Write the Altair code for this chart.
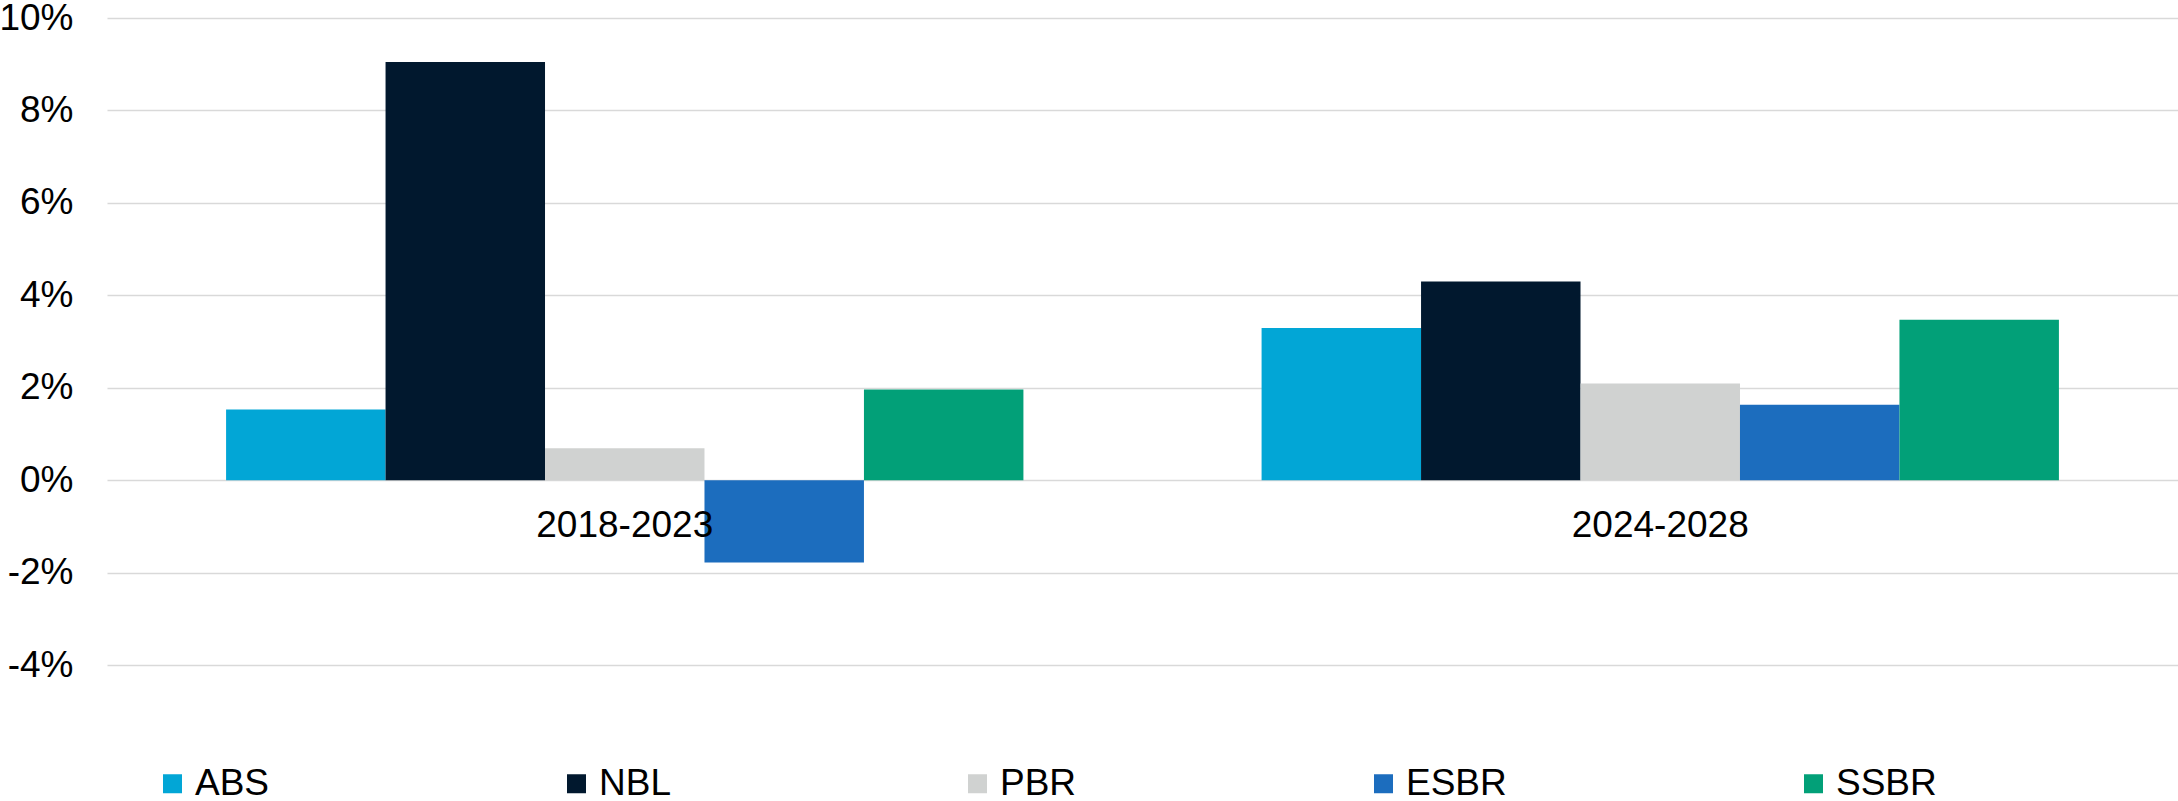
import altair as alt
import pandas as pd

periods = ["2018-2023", "2024-2028"]
series = ["ABS", "NBL", "PBR", "ESBR", "SSBR"]
growth_2018_2023 = [1.53, 9.05, 0.69, -1.78, 1.96]
growth_2024_2028 = [3.29, 4.30, 2.09, 1.63, 3.47]
colors = ["#02A6D6", "#01182E", "#D0D2D1", "#1C6DBE", "#02A078"]
y_ticks = [-0.04, -0.02, 0.0, 0.02, 0.04, 0.06, 0.08, 0.10]

rows = []
for p, vals in zip(periods, [growth_2018_2023, growth_2024_2028]):
    for s, v in zip(series, vals):
        rows.append({"period": p, "series": s, "value": v / 100})
df = pd.DataFrame(rows)
labels_df = pd.DataFrame({"period": periods, "base": [0.0] * len(periods)})

FONT = "Liberation Sans, Arial, sans-serif"

x_enc = alt.X("period:N", sort=periods, axis=None,
              scale=alt.Scale(paddingInner=0.23, paddingOuter=0.115))
y_scale = alt.Scale(domain=[-0.04, 0.10], nice=False, zero=False)
y_axis = alt.Axis(values=y_ticks, format=".0%", title=None,
                  labelExpr="replace(datum.label, '\u2212', '-')",
                  domain=False, ticks=False, labelFontSize=37,
                  labelPadding=34, labelColor="#000000", labelFont=FONT,
                  gridColor="#D9D9D9", gridWidth=1.3)

bars = alt.Chart(df).mark_bar().encode(
    x=x_enc,
    xOffset=alt.XOffset("series:N", sort=series,
                        scale=alt.Scale(paddingInner=0, paddingOuter=0)),
    y=alt.Y("value:Q", scale=y_scale, axis=y_axis),
    color=alt.Color("series:N", sort=series,
                    scale=alt.Scale(domain=series, range=colors),
                    legend=alt.Legend(orient="none", legendX=47, legendY=747,
                                      direction="horizontal", columns=5,
                                      title=None, symbolType="square",
                                      symbolSize=361, symbolStrokeWidth=0,
                                      labelFontSize=37, labelFont=FONT,
                                      labelColor="#000000", labelOffset=4,
                                      columnPadding=288, padding=0,
                                      labelLimit=400)),
)

labels = alt.Chart(labels_df).mark_text(
    fontSize=37, font=FONT, color="#000000", baseline="alphabetic", dy=57
).encode(
    x=x_enc,
    y=alt.Y("base:Q", scale=y_scale, axis=y_axis),
    text="period:N",
)

chart = alt.layer(bars, labels).properties(
    width=2071, height=647,
    autosize=alt.AutoSizeParams(type="none"),
    padding={"left": 107, "top": 18, "right": 0, "bottom": 136},
    background="white",
).configure_view(stroke=None)

chart.save("out.html", embed_options={"renderer": "svg", "actions": False})
